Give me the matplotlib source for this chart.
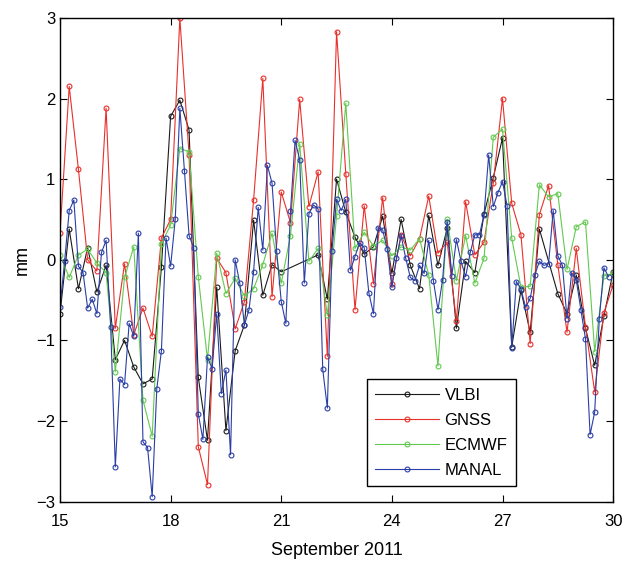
import numpy as np
import matplotlib.pyplot as plt

plt.rcParams['font.family'] = ['Liberation Sans', 'DejaVu Sans']

# 6-hourly epochs (days of September 2011)
t6 = np.arange(15, 30.01, 0.25)
# 3-hourly epochs
t3 = np.arange(15, 29.9, 0.125)

vlbi = [-0.67, 0.38, -0.36, 0.15, -0.40, -0.07, -1.24, -1.00, -1.33, -1.54,
        -1.48, -0.09, 1.78, 1.98, 1.61, -1.46, -2.24, -0.34, -2.12, -1.13,
        -0.81, 0.49, -0.44, -0.06, -0.15, np.nan, np.nan, np.nan, 0.06, -0.49,
        1.00, 0.59, 0.28, 0.07, 0.16, 0.54, -0.17, 0.50, -0.07, -0.36,
        0.55, -0.07, 0.39, -0.85, -0.02, -0.16, 0.57, 1.02, 1.51, -1.08,
        -0.38, -0.90, 0.38, np.nan, -0.42, -0.67, -0.19, -0.85, -1.31, -0.70,
        -0.15]

gnss = [0.33, 2.15, 1.12, 0.00, -0.14, 1.88, -0.85, -0.05, -0.93, -0.60,
        -0.95, 0.27, 0.50, 3.00, 1.30, -2.32, -2.79, 0.02, -0.16, -0.86,
        -0.52, 0.74, 2.25, -0.46, 0.84, 0.46, 1.99, 0.66, 1.09, -1.20,
        2.83, 1.07, -0.62, 0.67, -0.30, 0.77, -0.30, 0.31, 0.05, 0.26,
        0.79, 0.08, 0.22, -0.76, 0.72, 0.06, 0.22, 0.95, 2.00, 0.70,
        0.31, -1.04, 0.56, 0.92, -0.06, -0.90, 0.14, -0.83, -1.64, -0.66,
        -0.31]

ecmwf = [0.06, -0.22, 0.06, 0.13, -0.04, -0.16, -1.39, -0.22, 0.16, -1.74,
         -2.19, 0.20, 0.43, 1.38, 1.34, -0.21, -1.24, 0.08, -0.42, -0.23,
         -0.45, -0.36, -0.06, 0.33, -0.29, 0.30, 1.44, -0.02, 0.14, -0.69,
         0.54, 1.94, 0.14, 0.34, 0.17, 0.24, 0.05, 0.16, 0.12, 0.26,
         -0.19, -1.32, 0.50, -0.26, 0.30, -0.29, 0.02, 1.52, 1.62, 0.27,
         -0.34, -0.33, 0.93, 0.78, 0.82, -0.12, 0.41, 0.47, -1.14, -0.20,
         -0.17]

manal = [-0.59, -0.02, 0.61, 0.74, -0.08, -0.16, -0.60, -0.49, -0.67, 0.09,
         0.24, -0.84, -2.57, -1.48, -1.55, -0.79, -0.95, 0.33, -2.26, -2.33,
         -2.94, -1.60, -1.13, 0.27, -0.08, 0.50, 1.88, 1.10, 0.30, 0.15,
         -1.91, -2.23, -1.21, -1.35, -0.67, -1.66, -1.37, -2.42, 0.00, -0.29,
         -0.81, -0.62, -0.15, 0.65, 0.12, 1.17, 0.95, 0.11, -0.52, -0.79,
         0.60, 1.48, 1.24, -0.29, 0.57, 0.68, 0.63, -1.36, -1.84, 0.11,
         0.75, 0.61, 0.75, -0.13, 0.04, 0.21, 0.15, -0.41, -0.67, 0.40,
         0.37, 0.13, -0.34, 0.02, 0.30, 0.02, -0.22, -0.26, -0.07, -0.17,
         0.24, -0.26, -0.62, -0.25, 0.47, -0.20, 0.25, -0.02, -0.21, 0.09,
         0.31, 0.31, 0.56, 1.30, 0.66, 0.83, 0.97, 0.67, -1.09, -0.27,
         -0.36, -0.59, -0.48, -0.19, -0.02, -0.07, -0.05, 0.61, 0.05, -0.07,
         -0.73, -0.16, -0.25, -0.62, -0.98, -2.17, -1.89, -0.73, -0.10, -0.21]

vlbi = np.array(vlbi)
ok = ~np.isnan(vlbi)

fig = plt.figure(figsize=(6.25, 5.61), dpi=100)
ax = fig.add_axes([0.096, 0.106, 0.885, 0.862])

style = dict(marker='o', markersize=3.5, markerfacecolor='none',
             linewidth=0.8, markeredgewidth=0.8)
ax.plot(t6[ok], vlbi[ok], color='#1a1a1a', label='VLBI', **style)
ax.plot(t6, gnss, color='#e8302a', label='GNSS', **style)
ax.plot(t6, ecmwf, color='#62c950', label='ECMWF', **style)
ax.plot(t3, manal, color='#2a3ea6', label='MANAL', **style)

ax.set_xlim(15, 30)
ax.set_ylim(-3, 3)
ax.set_xticks([15, 18, 21, 24, 27, 30])
ax.set_yticks([-3, -2, -1, 0, 1, 2, 3])
ax.tick_params(direction='in', top=True, right=True, labelsize=12, length=5)
ax.tick_params(axis='x', pad=9)
ax.set_xlabel('September 2011', fontsize=13, labelpad=9)
ax.set_ylabel('mm', fontsize=13)
for s in ax.spines.values():
    s.set_linewidth(1.0)

leg = ax.legend(loc='lower left', bbox_to_anchor=(0.555, 0.032), fontsize=12,
                handlelength=3.8, handletextpad=0.35, fancybox=False,
                edgecolor='black', framealpha=1, borderpad=0.5,
                labelspacing=0.6, borderaxespad=0)
leg.get_frame().set_linewidth(1.0)

fig.savefig('out.png', dpi=100)
